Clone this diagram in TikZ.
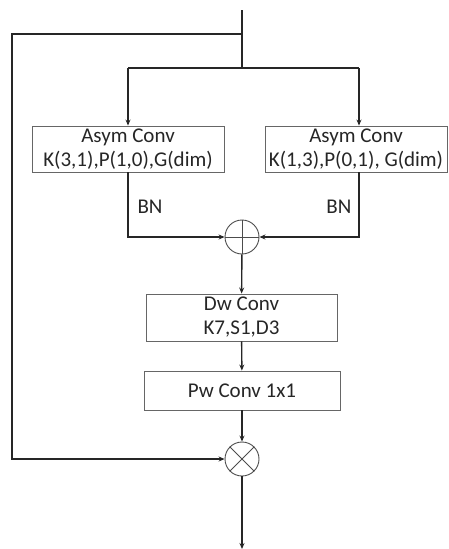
\documentclass[tikz,border=0pt]{standalone}
\usepackage{fontspec}
\setmainfont{Carlito}
\usetikzlibrary{positioning, arrows.meta, calc}

\tikzset{
    block/.style={draw=gray!80!black, line width=0.9pt, inner sep=0pt, align=center,
        font=\fontsize{21}{24}\selectfont, text=black!85},
    op/.style={circle, draw=black!70, line width=0.9pt, minimum size=34pt, inner sep=0pt},
    flow/.style={line width=1.4pt, draw=black!85},
    arr/.style={flow, -{Stealth[length=6pt, width=5pt]}}
}

\begin{document}
\begin{tikzpicture}[x=1pt, y=1pt]
    \useasboundingbox (0,0) rectangle (448,-549);
    % input and forks
    \coordinate (in) at (242,-10);
    \coordinate (skip) at (242,-34);
    \coordinate (fork) at (242,-68);
    \coordinate (forkl) at (128,-68);
    \coordinate (forkr) at (359,-68);
    \coordinate (out) at (242,-549);
    % blocks
    \node[block, minimum width=192pt, minimum height=46pt] (asyml) at (128,-149) {Asym Conv\\K(3,1),P(1,0),G(dim)};
    \node[block, minimum width=182pt, minimum height=46pt] (asymr) at (356,-149) {Asym Conv\\K(1,3),P(0,1), G(dim)};
    \node[op] (add) at (242,-237) {};
    \node[block, minimum width=191pt, minimum height=47pt] (dw) at (241.5,-317.5) {Dw Conv\\K7,S1,D3};
    \node[block, minimum width=196pt, minimum height=39pt] (pw) at (242,-390.5) {Pw Conv 1x1};
    \node[op] (mul) at (242,-459) {};
    \draw[line width=0.9pt, black!70] (add.north) -- (add.south) (add.west) -- (add.east);
    \draw[line width=0.9pt, black!70] (mul.north west) -- (mul.south east) (mul.north east) -- (mul.south west);
    % BN labels
    \node[font=\fontsize{21}{24}\selectfont, text=black!85, anchor=west] (bnl) at (134,-207) {BN};
    \node[font=\fontsize{21}{24}\selectfont, text=black!85, anchor=east] (bnr) at (355,-207) {BN};
    % connectors
    \draw[flow] (in) -- (fork);
    \draw[flow] (forkl) -- (forkr);
    \draw[arr] (forkl) -- (asyml.north);
    \draw[arr] (forkr) -- (forkr |- asymr.north);
    \draw[arr] (asyml.south) |- (add);
    \draw[arr] (forkr |- asymr.south) |- (add);
    \draw[arr] (add) -- (dw);
    \draw[arr] (dw) -- (pw);
    \draw[arr] (pw) -- (mul);
    \draw[arr] (skip) -- ++(-230,0) |- (mul);
    \draw[arr] (mul) -- (out);
\end{tikzpicture}
\end{document}
